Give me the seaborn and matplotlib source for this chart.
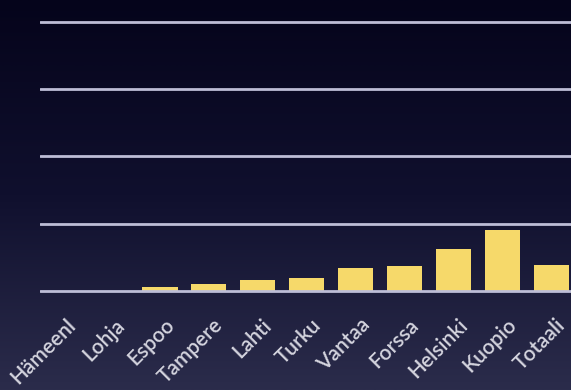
import numpy as np
import pandas as pd
import matplotlib
matplotlib.use("Agg")
import matplotlib.pyplot as plt
import matplotlib.transforms as mtransforms
from matplotlib.colors import LinearSegmentedColormap
import seaborn as sns

cities = ["Hämeenl", "Lohja", "Espoo", "Tampere", "Lahti", "Turku",
          "Vantaa", "Forssa", "Helsinki", "Kuopio", "Totaali"]
values = [0.0, 0.0, 0.6, 1.0, 1.6, 1.9, 3.4, 3.7, 6.2, 9.0, 3.8]
grid_levels = [0, 10, 20, 30, 40]

df = pd.DataFrame({"city": cities, "value": values})

sns.set_theme(style="white")
plt.rcParams["font.family"] = ["Lato", "DejaVu Sans"]

fig = plt.figure(figsize=(5.71, 3.90), dpi=100)

# gradient background
bg = fig.add_axes([0, 0, 1, 1], zorder=0)
cmap = LinearSegmentedColormap.from_list("bg", ["#05041b", "#10102e", "#2b2c4b"])
grad = np.linspace(0, 1, 256).reshape(-1, 1)
bg.imshow(grad, aspect="auto", cmap=cmap, extent=[0, 1, 0, 1], origin="upper")
bg.axis("off")

ax = fig.add_axes([40 / 571, (390 - 293) / 390, 531 / 571, 273 / 390], zorder=1)
ax.patch.set_alpha(0)

sns.barplot(data=df, x="city", y="value", color="#f6d96a", saturation=1,
            width=0.72, linewidth=0, ax=ax, zorder=3)

for g in grid_levels:
    ax.axhline(g, color="#bdbdd6", lw=2.0, zorder=2 if g > 0 else 4)

ax.set_xlim(-0.45, 10.4)
ax.set_ylim(-0.3, 40.3)
ax.set_xlabel("")
ax.set_ylabel("")
ax.set_yticks([])
for s in ax.spines.values():
    s.set_visible(False)
ax.tick_params(axis="x", length=0, pad=0)

offset = mtransforms.ScaledTranslation(11 / 100, -29 / 100, fig.dpi_scale_trans)
ax.set_xticks(range(len(cities)))
ax.set_xticklabels(cities, rotation=45, ha="right", va="center",
                   rotation_mode="anchor", color="#d4d4de", fontsize=15,
                   fontweight="semibold")
for lbl in ax.get_xticklabels():
    lbl.set_transform(lbl.get_transform() + offset)

fig.savefig("out.png", dpi=100)
